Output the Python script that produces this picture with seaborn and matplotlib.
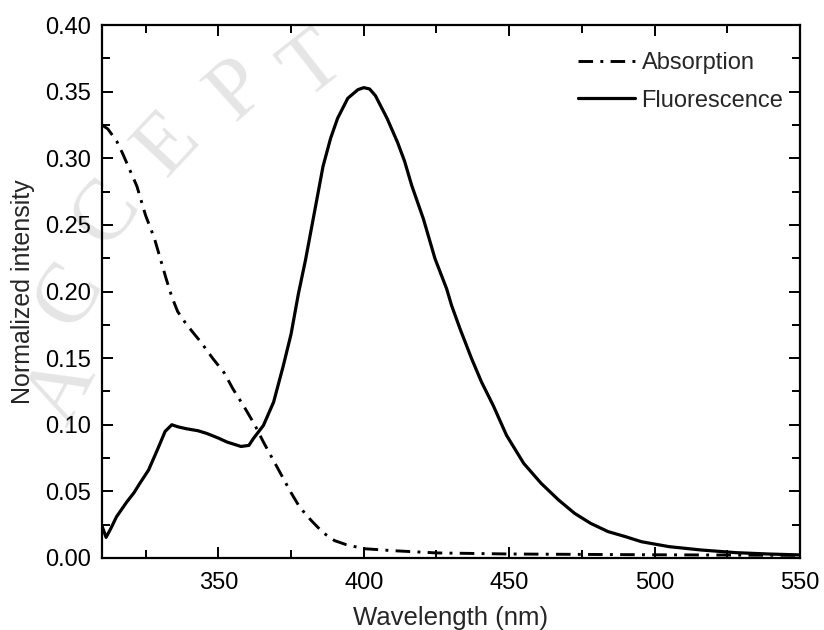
import pandas as pd
import matplotlib
matplotlib.use("Agg")
import matplotlib.pyplot as plt
from matplotlib.ticker import MultipleLocator, FormatStrFormatter
import seaborn as sns

# absorption spectrum
abs_wl = [310, 312, 315, 317, 320, 322, 325, 328, 330, 332, 334, 336, 338.5, 341, 344,
          348, 352, 355, 359, 362.5, 365.5, 369, 372, 375, 378, 382, 386, 390, 394, 398,
          400, 410, 425, 450, 475, 500, 525, 550]
abs_val = [0.325, 0.322, 0.313, 0.304, 0.289, 0.279, 0.257, 0.240, 0.225, 0.210, 0.196,
           0.185, 0.177, 0.170, 0.162, 0.150, 0.139, 0.127, 0.113, 0.100, 0.087, 0.073,
           0.061, 0.049, 0.038, 0.028, 0.019, 0.013, 0.010, 0.008, 0.007, 0.0055,
           0.0038, 0.003, 0.0027, 0.0024, 0.0022, 0.002]

# fluorescence spectrum
fl_wl = [310, 311.4, 313, 315, 318.5, 321, 323, 326, 329, 331.7, 334, 336, 339, 343,
         346, 350, 353, 357.8, 360.5, 362, 365.5, 369, 372.3, 375, 377.5, 380, 383, 386,
         388.6, 391, 394.5, 398, 400, 402, 404, 408, 411.6, 414, 416.5, 420.5, 424.5,
         428.5, 430.2, 433.1, 437.1, 440.5, 444.5, 449.1, 455, 461, 467, 472.5, 478, 484,
         490, 495.5, 505, 516, 528, 539, 550]
fl_val = [0.024, 0.0155, 0.022, 0.031, 0.042, 0.049, 0.056, 0.066, 0.081, 0.095, 0.100,
          0.0985, 0.097, 0.0955, 0.0935, 0.090, 0.087, 0.0837, 0.0845, 0.0895, 0.0995,
          0.117, 0.144, 0.168, 0.198, 0.224, 0.259, 0.294, 0.315, 0.330, 0.345, 0.3515,
          0.353, 0.352, 0.347, 0.330, 0.312, 0.298, 0.2795, 0.2545, 0.2246, 0.202,
          0.1895, 0.172, 0.1495, 0.132, 0.1145, 0.092, 0.071, 0.056, 0.0435, 0.0335,
          0.026, 0.0198, 0.016, 0.0122, 0.0085, 0.006, 0.004, 0.003, 0.0023]

watermark = ["A", "C", "C", "E", "P", "T"]

sns.set_style("ticks")
plt.rcParams['font.family'] = ['Liberation Sans', 'DejaVu Sans']

fig = plt.figure(figsize=(8.24, 6.3), dpi=100)
ax = fig.add_axes([0.1238, 0.1143, 0.8471, 0.846])
ax.set_facecolor('none')

# faint manuscript watermark behind everything
wm_pos = [(0.075, 0.38), (0.085, 0.53), (0.13, 0.66), (0.205, 0.77), (0.29, 0.855), (0.38, 0.895)]
wm_rot = [62, 58, 52, 47, 42, 38]
for ch, (px, py), r in zip(watermark, wm_pos, wm_rot):
    fig.text(px, py, ch, fontsize=62, family='Liberation Serif', color='#e5e5e5',
             rotation=r, ha='center', va='center', zorder=-5)

absorb = pd.DataFrame({'wl': abs_wl, 'val': abs_val})
fluor = pd.DataFrame({'wl': fl_wl, 'val': fl_val})

sns.lineplot(data=absorb, x='wl', y='val', ax=ax, color='black', lw=2.1,
             linestyle=(0, (5, 2.5, 1, 2.5)), label='Absorption', estimator=None)
sns.lineplot(data=fluor, x='wl', y='val', ax=ax, color='black', lw=2.3,
             label='Fluorescence', estimator=None)

ax.set_xlim(310, 550)
ax.set_ylim(0, 0.40)
ax.xaxis.set_major_locator(MultipleLocator(50))
ax.xaxis.set_minor_locator(MultipleLocator(25))
ax.yaxis.set_major_locator(MultipleLocator(0.05))
ax.yaxis.set_minor_locator(MultipleLocator(0.025))
ax.yaxis.set_major_formatter(FormatStrFormatter('%.2f'))

for s in ax.spines.values():
    s.set_visible(True)
    s.set_linewidth(1.6)
    s.set_color('black')
ax.tick_params(which='both', direction='in', top=True, right=True, width=1.4, colors='black')
ax.tick_params(which='major', length=8, labelsize=17)
ax.tick_params(which='minor', length=5.5)
ax.tick_params(axis='x', which='major', pad=10)
ax.tick_params(axis='y', which='major', pad=8)

ax.set_xlabel('Wavelength (nm)', fontsize=18.5, labelpad=9)
ax.set_ylabel('Normalized intensity', fontsize=18, labelpad=7)

ax.legend(loc='upper right', bbox_to_anchor=(1.0, 0.98), frameon=False, fontsize=17,
          handlelength=2.4, handletextpad=0.3, labelspacing=0.65, borderaxespad=0.3)

fig.savefig('out.png', dpi=100)
